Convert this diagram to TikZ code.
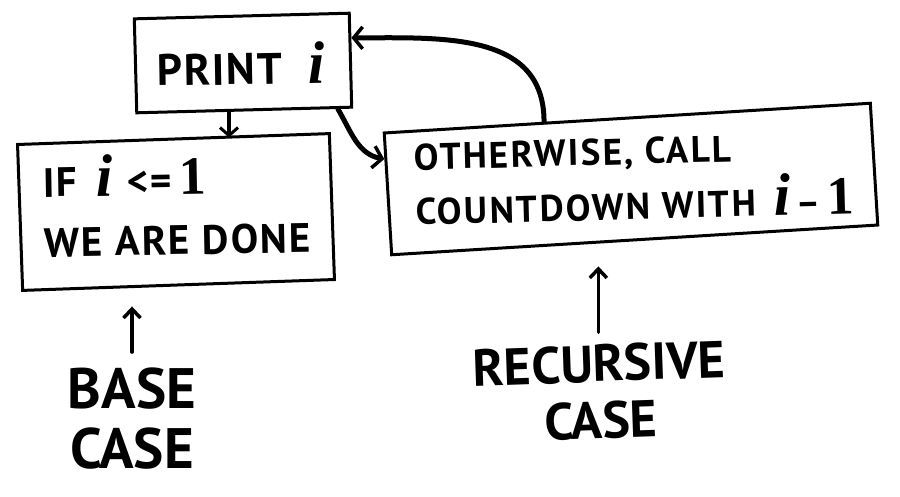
\documentclass[tikz,border=0pt]{standalone}
\usepackage{fontspec}
\setmainfont{PT Sans}
\newfontfamily\ifont{Liberation Serif}
\usetikzlibrary{arrows.meta,calc}
\newcommand{\bigi}{{\ifont\bfseries\itshape\fontsize{60}{60}\selectfont i}}
\newcommand{\bigone}{{\ifont\bfseries\fontsize{54}{54}\selectfont 1}}
\begin{document}
\begin{tikzpicture}[x=1pt,y=-1pt,
  box/.style={draw,line width=3pt,rectangle,inner sep=0pt},
  txt/.style={inner sep=0pt,font=\bfseries\fontsize{41}{60}\selectfont\addfontfeature{LetterSpace=5}},
  lab/.style={inner sep=0pt,align=center,font=\bfseries\fontsize{57}{60}\selectfont},
  arr/.style={line width=3.5pt,line cap=round,-{Straight Barb[length=8pt,width=18pt,line width=3pt]}},
  thick arr/.style={line width=5pt,line cap=round,-{Straight Barb[length=9pt,width=22pt,line width=3.5pt]}},
  labarr/.style={line width=3.5pt,line cap=round,-{Straight Barb[length=9pt,width=17pt,line width=3.5pt]}}]
\useasboundingbox (0,0) rectangle (900,496);
% boxes
\node[box,minimum width=215pt,minimum height=94pt,rotate=1.5] (print) at (243,63) {};
\node[txt,anchor=base west,rotate=1,font=\bfseries\fontsize{44}{44}\selectfont\addfontfeature{LetterSpace=4}] (ptext) at (157,86) {PRINT\ \ \bigi};
\node[box,minimum width=312pt,minimum height=146pt,rotate=2] (base) at (176,212) {};
\node[txt,anchor=base west,align=left,rotate=1] (btext) at (44,257) {IF \,\bigi\,\,<=\,\bigone\\WE ARE DONE};
\node[box,minimum width=487pt,minimum height=122pt,rotate=3.5] (rec) at (631,179) {};
\node[txt,anchor=base west,align=left,rotate=1.5,font=\bfseries\fontsize{37}{55}\selectfont\addfontfeature{LetterSpace=6}] (rtext) at (416,225) {OTHERWISE, CALL\\COUNTDOWN WITH \,\bigi\,–\,\bigone};
% labels
\node[lab] (blab) at (132,419) {BASE\\CASE};
\node[lab,rotate=2,font=\bfseries\fontsize{52}{57}\selectfont] (rlab) at (600,392) {RECURSIVE\\CASE};
% connectors
\coordinate (p1) at ($(print.south west)!0.43!(print.south east)$);
\draw[arr] (p1) -- (p1 |- base.north);
\coordinate (p2) at ($(print.south west)!0.93!(print.south east)$);
\coordinate (r1) at ($(rec.north west)!0.22!(rec.south west)$);
\draw[thick arr] (p2) to[out=-60,in=170] (r1);
\coordinate (r2) at ($(rec.north west)!0.33!(rec.north east)$);
\coordinate (p3) at ($(print.north east)!0.27!(print.south east)$);
\draw[thick arr] (r2) to[out=90,in=0,looseness=1.1] (p3);
\draw[labarr] ([yshift=16pt]blab.north) -- ([yshift=-20pt]blab.north |- base.south);
\draw[labarr] ([yshift=12pt]rlab.north) -- ([yshift=-25pt]rlab.north |- rec.south);
\end{tikzpicture}
\end{document}
